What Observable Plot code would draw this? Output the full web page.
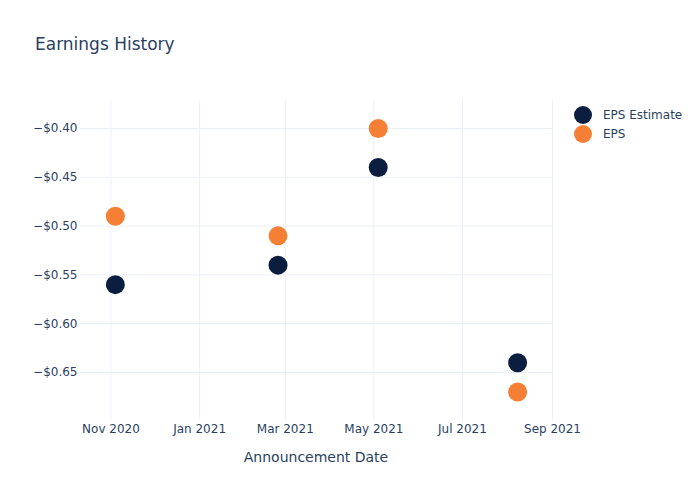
<!DOCTYPE html>
<html>
<head>
<meta charset="utf-8">
<script src="https://cdn.jsdelivr.net/npm/d3@7"></script>
<script src="https://cdn.jsdelivr.net/npm/@observablehq/plot@0.6"></script>
<style>
  html, body { margin: 0; padding: 0; background: #fff; }
  #wrap { position: relative; width: 700px; height: 500px; font-family: "DejaVu Sans", sans-serif; color: #2a3f5f; }
  #title { position: absolute; left: 35px; top: 36px; font-size: 17px; line-height: 1; }
  #legend { position: absolute; left: 574px; top: 105px; font-size: 12px; }
  .item { display: flex; align-items: center; height: 19px; }
  .sw { width: 18px; height: 18px; border-radius: 50%; margin-right: 11px; }
  #xlabel { position: absolute; left: 80px; width: 472px; top: 449px; text-align: center; font-size: 14px; }
</style>
</head>
<body>
<div id="wrap">
  <div id="chart"></div>
  <div id="title">Earnings History</div>
  <div id="xlabel">Announcement Date</div>
  <div id="legend"></div>
</div>
<script>
const dates = ["2020-11-04", "2021-02-24", "2021-05-04", "2021-08-08"];
const epsEstimate = [-0.56, -0.54, -0.44, -0.64];
const eps = [-0.49, -0.51, -0.40, -0.67];
const seriesNames = ["EPS Estimate", "EPS"];
const seriesColors = ["#0b1e3f", "#f58035"];
const xTicks = ["2020-11-01", "2021-01-01", "2021-03-01", "2021-05-01", "2021-07-01", "2021-09-01"];
const yTicks = [-0.40, -0.45, -0.50, -0.55, -0.60, -0.65];

const parse = d3.utcParse("%Y-%m-%d");
const rows = [];
dates.forEach((d, i) => {
  rows.push({date: parse(d), value: epsEstimate[i], series: seriesNames[0]});
});
dates.forEach((d, i) => {
  rows.push({date: parse(d), value: eps[i], series: seriesNames[1]});
});
const xt = xTicks.map(parse);

const chart = Plot.plot({
  width: 700,
  height: 500,
  marginTop: 100,
  marginBottom: 80,
  marginLeft: 80,
  marginRight: 148,
  style: {fontFamily: "DejaVu Sans, sans-serif", fontSize: "12px", color: "#2a3f5f", background: "#fff"},
  x: {type: "utc", domain: [parse("2020-10-11"), parse("2021-09-01")], label: null},
  y: {domain: [-0.6992, -0.3713], label: null},
  color: {domain: seriesNames, range: seriesColors},
  marks: [
    Plot.gridX(xt, {stroke: "#ebf0f8", strokeOpacity: 1}),
    Plot.gridY(yTicks, {stroke: "#ebf0f8", strokeOpacity: 1}),
    Plot.axisX({ticks: xt, tickFormat: d3.utcFormat("%b %Y"), tickSize: 0, tickPadding: 4, label: null}),
    Plot.axisY({ticks: yTicks, tickFormat: d3.format("$.2f"), tickSize: 0, tickPadding: 3, label: null}),
    Plot.dot(rows, {x: "date", y: "value", fill: "series", r: 9.5, stroke: "none"})
  ]
});
document.getElementById("chart").appendChild(chart);

const legend = document.getElementById("legend");
seriesNames.forEach((n, i) => {
  const it = document.createElement("div");
  it.className = "item";
  it.innerHTML = `<div class="sw" style="background:${seriesColors[i]}"></div><span>${n}</span>`;
  legend.appendChild(it);
});
</script>
</body>
</html>
